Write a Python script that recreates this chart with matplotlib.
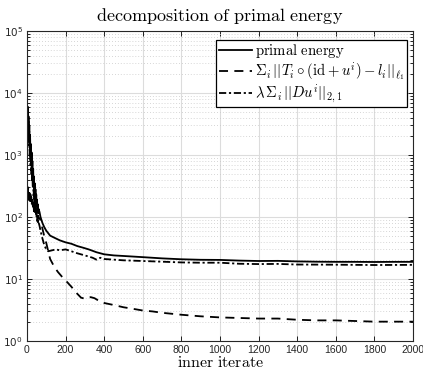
import matplotlib
matplotlib.use("Agg")
import matplotlib.pyplot as plt
from matplotlib.ticker import LogLocator, NullFormatter

plt.rcParams['mathtext.fontset'] = 'cm'

# iterations where values were read (dense at the start, where the curves oscillate)
iters_start = [0, 2, 4, 6, 8, 10, 12, 14, 16, 18, 20, 22, 24, 26, 28, 30,
               32, 34, 36, 38, 40, 42, 44, 46, 48, 50, 52, 54, 56, 58, 60]

primal_start = [8000, 3500, 6000, 2500, 4200, 1800, 3000, 1300, 2100, 950, 1500,
                700, 1100, 520, 800, 400, 600, 320, 450, 260, 350, 210, 280, 180,
                230, 150, 190, 130, 160, 115, 135]
data_start = [150, 260, 180, 300, 200, 280, 190, 250, 170, 230, 160, 210, 150,
              190, 140, 175, 130, 160, 125, 150, 120, 140, 115, 130, 110, 120,
              105, 112, 100, 105, 95]
reg_start = [7000, 3000, 5000, 2000, 3500, 1400, 2400, 1000, 1600, 700, 1100,
             500, 750, 380, 520, 290, 380, 220, 280, 170, 210, 140, 170, 115, 135,
             95, 110, 85, 95, 78, 82]

iters_primal = [65, 70, 80, 90, 100, 120, 150, 170, 200, 230, 260, 290, 320, 360,
                400, 450, 500, 600, 700, 800, 900, 1000, 1100, 1200, 1300, 1400,
                1500, 1600, 1700, 1800, 1900, 2000]
primal_rest = [120, 100, 80, 68, 60, 50, 45, 42, 39, 37, 34, 32, 30, 27, 25, 24,
               23.5, 22.5, 21.5, 20.8, 20.4, 20.3, 19.8, 19.5, 19.6, 19.2, 19.0,
               18.9, 18.9, 18.8, 18.9, 18.9]

iters_data = [65, 70, 80, 90, 100, 110, 120, 140, 160, 180, 200, 230, 260, 280,
              300, 330, 350, 380, 400, 450, 500, 550, 600, 650, 700, 800, 900,
              1000, 1100, 1200, 1300, 1400, 1500, 1600, 1700, 1800, 1900, 2000]
data_rest = [95, 90, 65, 48, 38, 28, 21, 16, 13, 11, 9.5, 7.5, 5.8, 5.0, 4.8, 5.1,
             4.9, 4.3, 4.1, 3.8, 3.5, 3.3, 3.1, 3.0, 2.85, 2.65, 2.5, 2.4, 2.35,
             2.3, 2.3, 2.2, 2.15, 2.15, 2.1, 2.05, 2.05, 2.05]

iters_reg = [65, 70, 80, 90, 100, 110, 130, 150, 170, 200, 230, 260, 300, 340,
             360, 380, 400, 450, 500, 600, 700, 800, 900, 1000, 1100, 1200, 1300,
             1400, 1600, 1800, 2000]
reg_rest = [72, 60, 45, 35, 30, 28, 29, 30, 29, 30, 28, 26, 24, 22, 20.5, 22, 21,
            20.5, 20, 19.5, 19, 18.5, 18.3, 18.3, 17.6, 17.4, 17.5, 17.1, 17.0,
            16.8, 16.9]

xticks = [0, 200, 400, 600, 800, 1000, 1200, 1400, 1600, 1800, 2000]
yticks = [1, 10, 100, 1000, 10000, 100000]
ytick_labels = [r'$10^{0}$', r'$10^{1}$', r'$10^{2}$', r'$10^{3}$', r'$10^{4}$', r'$10^{5}$']

fig = plt.figure(figsize=(4.23, 3.71), dpi=100)
ax = fig.add_axes([0.0638, 0.0809, 0.9125, 0.8356])

ax.plot(iters_start + iters_primal, primal_start + primal_rest, color='black',
        lw=1.3, ls='-', label=r'$\mathrm{primal\ energy}$')
ax.plot(iters_start + iters_data, data_start + data_rest, color='black',
        lw=1.3, ls=(0, (5, 3.5)),
        label=r'${\Sigma}_i\,||T_i \circ (\mathrm{id} + u^i) - l_i||_{\ell_1}$')
ax.plot(iters_start + iters_reg, reg_start + reg_rest, color='black',
        lw=1.3, ls=(0, (4, 1.5, 1.2, 1.5)),
        label=r'$\lambda\, {\Sigma}_i\,||Du^i||_{2,1}$')

ax.set_yscale('log')
ax.set_xlim(0, 2000)
ax.set_ylim(1, 1e5)
ax.set_xticks(xticks, [str(t) for t in xticks], fontsize=7.5,
              family='Liberation Sans', color='#262626')
ax.set_yticks(yticks, ytick_labels, fontsize=7.5, family='Liberation Sans',
              color='#262626', math_fontfamily='dejavusans')
ax.yaxis.set_minor_locator(LogLocator(base=10, subs=range(2, 10), numticks=20))
ax.yaxis.set_minor_formatter(NullFormatter())

ax.tick_params(which='both', direction='in', top=True, right=True, width=0.6)
ax.tick_params(which='major', length=3.5, pad=3)
ax.tick_params(which='minor', length=2)

ax.grid(True, which='major', color='#dcdcdc', lw=0.8, ls='-')
ax.grid(True, which='minor', axis='y', color='#c8c8c8', lw=0.6, ls=(0, (1, 2.5)))
ax.set_axisbelow(True)
for s in ax.spines.values():
    s.set_linewidth(0.8)
    s.set_color('#262626')

ax.set_title(r'$\mathrm{decomposition\ of\ primal\ energy}$', fontsize=13, pad=7)
ax.set_xlabel(r'$\mathrm{inner\ iterate}$', fontsize=11.5, labelpad=0)

leg = ax.legend(loc='upper right', bbox_to_anchor=(0.985, 0.97), fontsize=10.6,
                frameon=True, fancybox=False, framealpha=1, edgecolor='black',
                handlelength=2.3, handletextpad=0.2, labelspacing=0.0,
                borderpad=0.15, borderaxespad=0)
leg.get_frame().set_linewidth(0.9)

fig.savefig('out.png', dpi=100)
